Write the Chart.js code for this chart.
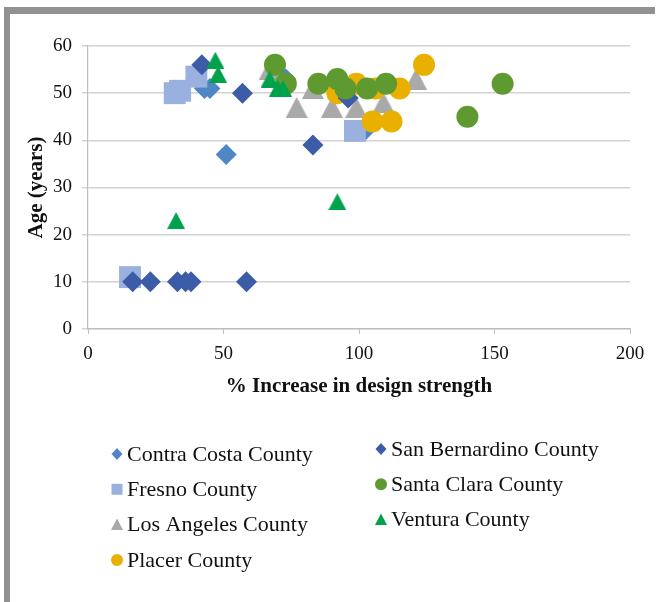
<!DOCTYPE html>
<html>
<head>
<meta charset="utf-8">
<script src="https://cdn.jsdelivr.net/npm/chart.js@4/dist/chart.umd.min.js"></script>
<style>
  html, body { margin: 0; padding: 0; background: #ffffff; }
  #frame {
    position: absolute; left: 4px; top: 7px; width: 651px; height: 595px;
    border-top: 7px solid #919191; border-left: 6px solid #919191;
    box-sizing: border-box;
  }
  #chart { position: absolute; left: 0; top: 0; }
</style>
</head>
<body>
<div id="frame"></div>
<canvas id="chart" width="657" height="602"></canvas>
<script>
// Counties, in legend order
const counties = [
  'Contra Costa County', 'Fresno County', 'Los Angeles County', 'Placer County',
  'San Bernardino County', 'Santa Clara County', 'Ventura County'
];

// % increase in design strength (x) and age in years (y) per county
const contraX = [51, 43, 45, 73, 102];
const contraY = [37, 51, 51, 53, 42];
const fresnoX = [15.5, 32, 34, 40, 98.5];
const fresnoY = [11, 50, 50.5, 53.5, 42];
const laX = [67, 77, 83, 90, 99, 109, 121];
const laY = [55, 47, 51, 47, 47, 48, 53];
const placerX = [92, 99, 106, 115, 105, 112, 124];
const placerY = [50, 52, 51, 51, 44, 44, 56];
const sbX = [16.5, 23, 33, 36, 38, 58.5, 42, 57, 83, 96];
const sbY = [10, 10, 10, 10, 10, 10, 56, 50, 39, 49];
const scX = [69, 73, 85, 92, 95, 103, 110, 140, 153];
const scY = [56, 52, 52, 53, 51, 51, 52, 45, 52];
const venX = [32.5, 47, 48, 67, 70, 72, 92];
const venY = [23, 57, 54, 53, 51, 51, 27];

// Axis ticks
const xTicks = [0, 50, 100, 150, 200];
const yTicks = [0, 10, 20, 30, 40, 50, 60];

const seriesX = [contraX, fresnoX, laX, placerX, sbX, scX, venX];
const seriesY = [contraY, fresnoY, laY, placerY, sbY, scY, venY];

function triangleImage(w, h, color) {
  const c = document.createElement('canvas');
  c.width = w; c.height = h;
  const g = c.getContext('2d');
  g.fillStyle = color;
  g.beginPath();
  g.moveTo(w / 2, 0);
  g.lineTo(w, h);
  g.lineTo(0, h);
  g.closePath();
  g.fill();
  return c;
}

const colors = ['#4F86C6', '#9AB1DF', '#A9A9A9', '#E9B000', '#3D5CA8', '#5F9A31', '#00A24C'];
const styles = [
  { pointStyle: 'rectRot', pointRadius: 10.5 },
  { pointStyle: 'rect', pointRadius: 15.5 },
  { pointStyle: triangleImage(22, 21, colors[2]), pointRadius: 11 },
  { pointStyle: 'circle', pointRadius: 11 },
  { pointStyle: 'rectRot', pointRadius: 10.5 },
  { pointStyle: 'circle', pointRadius: 11 },
  { pointStyle: triangleImage(18, 17, colors[6]), pointRadius: 9 }
];
const legendShapes = ['diamond', 'square', 'triangle', 'circle', 'diamond', 'circle', 'triangle'];

const datasets = counties.map((name, i) => ({
  label: name,
  data: seriesX[i].map((x, j) => ({ x: x, y: seriesY[i][j] })),
  backgroundColor: colors[i],
  borderColor: colors[i],
  borderWidth: 0,
  pointStyle: styles[i].pointStyle,
  pointRadius: styles[i].pointRadius,
  pointHoverRadius: styles[i].pointRadius,
  order: counties.length - i
}));

// Two-column legend beneath the plot
const columnLegend = {
  id: 'columnLegend',
  afterDraw(chart) {
    const ctx = chart.ctx;
    ctx.save();
    ctx.font = '22px "Liberation Serif", serif';
    ctx.textBaseline = 'middle';
    chart.data.datasets.forEach((ds, i) => {
      const col = i < 4 ? 0 : 1;
      const row = i < 4 ? i : i - 4;
      const mx = col === 0 ? 117 : 381;
      const my = (col === 0 ? 454 : 449) + row * 35.3;
      ctx.fillStyle = colors[i];
      ctx.beginPath();
      const shape = legendShapes[i];
      if (shape === 'diamond') {
        ctx.moveTo(mx, my - 6); ctx.lineTo(mx + 5.5, my); ctx.lineTo(mx, my + 6); ctx.lineTo(mx - 5.5, my);
      } else if (shape === 'square') {
        ctx.rect(mx - 5.5, my - 5.5, 11, 11);
      } else if (shape === 'triangle') {
        ctx.moveTo(mx, my - 6); ctx.lineTo(mx + 6, my + 5.5); ctx.lineTo(mx - 6, my + 5.5);
      } else {
        ctx.arc(mx, my, 6, 0, Math.PI * 2);
      }
      ctx.closePath();
      ctx.fill();
      ctx.fillStyle = '#111111';
      ctx.fillText(ds.label, mx + 10, my + 1);
    });
    ctx.restore();
  }
};

const tickFont = { family: '"Liberation Serif", serif', size: 19 };
const titleFont = { family: '"Liberation Serif", serif', size: 21, weight: 'bold' };

new Chart(document.getElementById('chart'), {
  type: 'scatter',
  data: { datasets },
  options: {
    responsive: false,
    animation: false,
    events: [],
    layout: { padding: { left: 20, top: 46, right: 27, bottom: 203 } },
    plugins: { legend: { display: false }, tooltip: { enabled: false } },
    scales: {
      x: {
        type: 'linear', min: 0, max: 200,
        afterBuildTicks: s => { s.ticks = xTicks.map(v => ({ value: v })); },
        afterFit: s => { s.height = 70; },
        grid: { drawOnChartArea: false, drawTicks: true, tickLength: 5, color: '#BDBDBD', lineWidth: 1 },
        border: { display: true, color: '#BDBDBD', width: 1.2 },
        ticks: { font: tickFont, color: '#111111', padding: 9, maxRotation: 0 },
        title: { display: true, text: '% Increase in design strength', font: titleFont, color: '#111111', padding: { top: 4, bottom: 0 } }
      },
      y: {
        type: 'linear', min: 0, max: 60,
        afterBuildTicks: s => { s.ticks = yTicks.map(v => ({ value: v })); },
        afterFit: s => { s.width = 68; },
        grid: { drawOnChartArea: true, drawTicks: true, tickLength: 6, color: '#D2D2D2', lineWidth: 1.5 },
        border: { display: true, color: '#BDBDBD', width: 1.2 },
        ticks: { font: tickFont, color: '#111111', padding: 10 },
        title: { display: true, text: 'Age (years)', font: titleFont, color: '#111111', padding: { top: 4, bottom: 4 } }
      }
    }
  },
  plugins: [columnLegend]
});
</script>
</body>
</html>
